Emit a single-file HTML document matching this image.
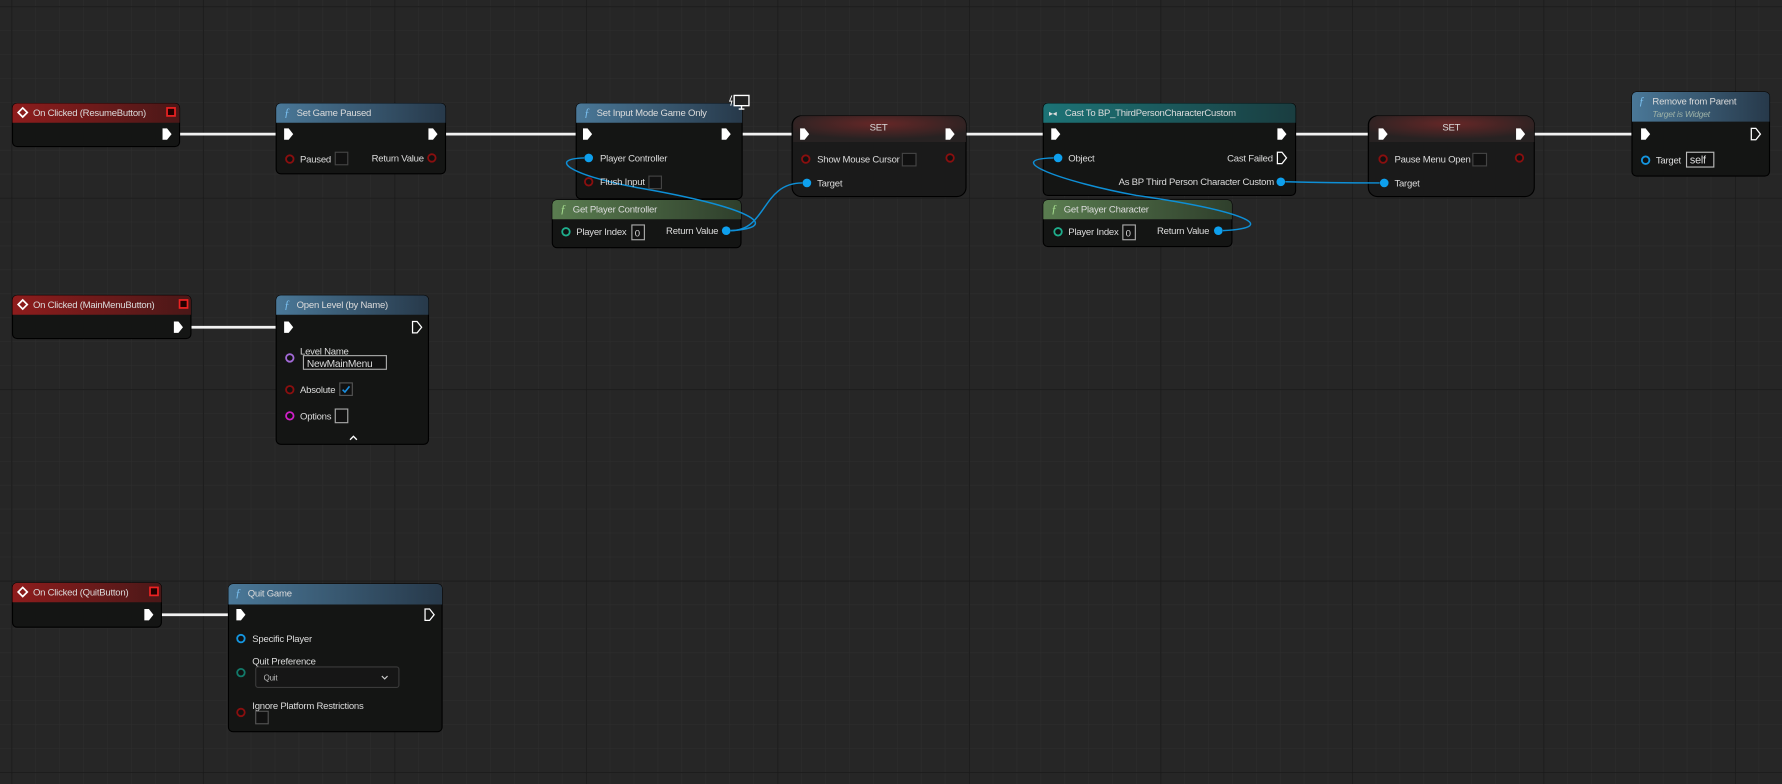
<!DOCTYPE html>
<html><head><meta charset="utf-8"><style>
html,body{margin:0;padding:0;background:#262626;overflow:hidden}
svg{display:block}
text{font-family:"Liberation Sans",sans-serif;font-size:8.4px;letter-spacing:-0.2px;fill:#dcdcdc}
</style></head><body>
<svg width="1782" height="784" viewBox="0 0 1568 690" preserveAspectRatio="none" xmlns="http://www.w3.org/2000/svg">
<defs>
<pattern id="minor" x="10" y="5.5" width="21.06" height="21.06" patternUnits="userSpaceOnUse"><path d="M0 0H21.06M0 0V21.06" stroke="#2d2d2d" stroke-width="1" fill="none"/></pattern>
<pattern id="major" x="10" y="5.5" width="168.5" height="168.5" patternUnits="userSpaceOnUse"><path d="M0 0H168.5M0 0V168.5" stroke="#1a1a1a" stroke-width="1.6" fill="none"/></pattern>
<linearGradient id="gRed" x1="0" x2="1"><stop offset="0" stop-color="#8e1c1c"/><stop offset="1" stop-color="#4a1818"/></linearGradient>
<linearGradient id="gBlue" x1="0" x2="1"><stop offset="0" stop-color="#4a7898"/><stop offset="1" stop-color="#27394a"/></linearGradient>
<linearGradient id="gGreen" x1="0" x2="1"><stop offset="0" stop-color="#5a7d50"/><stop offset="1" stop-color="#2f3f2c"/></linearGradient>
<linearGradient id="gTeal" x1="0" x2="1"><stop offset="0" stop-color="#1c7376"/><stop offset="1" stop-color="#1a3d40"/></linearGradient>
<radialGradient id="gSet" cx="0.5" cy="0.3" r="0.6"><stop offset="0" stop-color="#7a2a2a"/><stop offset="1" stop-color="#2a2424"/></radialGradient>
</defs>
<rect width="1568" height="690" fill="#262626"/>
<rect width="1568" height="690" fill="url(#minor)"/>
<rect width="1568" height="690" fill="url(#major)"/>

<g stroke="#f2f2f2" stroke-width="2.4" fill="none">
<path d="M152 118H249"/><path d="M386 118H512"/><path d="M644 118H703"/><path d="M841 118H924"/>
<path d="M1133 118H1212"/><path d="M1343 118H1443"/>
<path d="M162 288H249"/><path d="M136 541H207"/>
</g>

<g stroke="#000" stroke-width="1">
<rect x="11" y="91" width="147" height="38" rx="4" fill="#141514"/>
<rect x="243" y="91" width="149" height="62" rx="4" fill="#141514"/>
<rect x="507" y="91" width="146" height="84" rx="4" fill="#141514"/>
<rect x="697" y="102" width="153" height="71" rx="8" fill="#1a1a1a"/>
<rect x="918" y="91" width="222" height="81" rx="4" fill="#141514"/>
<rect x="1204" y="102" width="146" height="71" rx="8" fill="#1a1a1a"/>
<rect x="1436" y="81" width="121" height="74" rx="4" fill="#141514"/>
<rect x="11" y="260" width="157" height="38" rx="4" fill="#141514"/>
<rect x="243" y="260" width="134" height="131" rx="4" fill="#141514"/>
<rect x="11" y="513" width="131" height="39" rx="4" fill="#141514"/>
<rect x="201" y="514" width="188" height="130" rx="4" fill="#141514"/>
</g>
<g>
<path d="M11 108V95a4 4 0 0 1 4-4h139a4 4 0 0 1 4 4v13z" fill="url(#gRed)"/>
<path d="M243 108V95a4 4 0 0 1 4-4h141a4 4 0 0 1 4 4v13z" fill="url(#gBlue)"/>
<path d="M507 108V95a4 4 0 0 1 4-4h138a4 4 0 0 1 4 4v13z" fill="url(#gBlue)"/>
<path d="M698 125V110a8 8 0 0 1 8-8h136a8 8 0 0 1 8 8v15z" fill="url(#gSet)" opacity="0.8"/>
<path d="M918 108V95a4 4 0 0 1 4-4h214a4 4 0 0 1 4 4v13z" fill="url(#gTeal)"/>
<path d="M1205 125V110a8 8 0 0 1 8-8h129a8 8 0 0 1 8 8v15z" fill="url(#gSet)" opacity="0.8"/>
<path d="M1436 107V85a4 4 0 0 1 4-4h113a4 4 0 0 1 4 4v22z" fill="url(#gBlue)"/>
<path d="M11 277V264a4 4 0 0 1 4-4h149a4 4 0 0 1 4 4v13z" fill="url(#gRed)"/>
<path d="M243 277V264a4 4 0 0 1 4-4h126a4 4 0 0 1 4 4v13z" fill="url(#gBlue)"/>
<path d="M11 530V517a4 4 0 0 1 4-4h123a4 4 0 0 1 4 4v13z" fill="url(#gRed)"/>
<path d="M201 532V518a4 4 0 0 1 4-4h180a4 4 0 0 1 4 4v14z" fill="url(#gBlue)"/>
</g>
<g stroke="#000" stroke-width="1">
<rect x="486" y="176" width="166" height="42" rx="4" fill="#141514"/>
<rect x="918" y="176" width="166" height="41" rx="4" fill="#141514"/>
</g>
<path d="M486 193V180a4 4 0 0 1 4-4h158a4 4 0 0 1 4 4v13z" fill="url(#gGreen)"/>
<path d="M918 193V180a4 4 0 0 1 4-4h158a4 4 0 0 1 4 4v13z" fill="url(#gGreen)"/>

<g stroke="#0e8fd6" stroke-width="1.3" fill="none">
<path d="M643 203C690 200 660 182 560 165C505 155 480 140 514 139"/>
<path d="M643 203C675 203 670 161 706 161"/>
<path d="M1076 203C1130 200 1090 185 1000 172C935 160 880 140 927 139"/>
<path d="M1131 160C1170 161 1180 161 1214 161"/>
</g>

<g>
<path d="M16 99l4-4 4 4-4 4z" fill="none" stroke="#fff" stroke-width="1.5"/>
<text x="29" y="102">On Clicked (ResumeButton)</text>
<rect x="147" y="95" width="7" height="7" fill="#200" stroke="#e22" stroke-width="1.5"/>
<path d="M16 268l4-4 4 4-4 4z" fill="none" stroke="#fff" stroke-width="1.5"/>
<text x="29" y="271">On Clicked (MainMenuButton)</text>
<rect x="158" y="264" width="7" height="7" fill="#200" stroke="#e22" stroke-width="1.5"/>
<path d="M16 521l4-4 4 4-4 4z" fill="none" stroke="#fff" stroke-width="1.5"/>
<text x="29" y="524">On Clicked (QuitButton)</text>
<rect x="132" y="517" width="7" height="7" fill="#200" stroke="#e22" stroke-width="1.5"/>

<text x="250" y="102" style="fill:#7ac0f0;font-style:italic;font-size:10px;font-family:'Liberation Serif',serif">ƒ</text>
<text x="514" y="102" style="fill:#7ac0f0;font-style:italic;font-size:10px;font-family:'Liberation Serif',serif">ƒ</text>
<text x="493" y="187" style="fill:#a8e090;font-style:italic;font-size:10px;font-family:'Liberation Serif',serif">ƒ</text>
<text x="925" y="187" style="fill:#a8e090;font-style:italic;font-size:10px;font-family:'Liberation Serif',serif">ƒ</text>
<text x="1442" y="92" style="fill:#7ac0f0;font-style:italic;font-size:10px;font-family:'Liberation Serif',serif">ƒ</text>
<text x="250" y="271" style="fill:#7ac0f0;font-style:italic;font-size:10px;font-family:'Liberation Serif',serif">ƒ</text>
<text x="207" y="525" style="fill:#7ac0f0;font-style:italic;font-size:10px;font-family:'Liberation Serif',serif">ƒ</text>
<text x="261" y="102">Set Game Paused</text>
<text x="525" y="102">Set Input Mode Game Only</text>
<text x="504" y="187">Get Player Controller</text>
<text x="936" y="187">Get Player Character</text>
<text x="773" y="115" text-anchor="middle">SET</text>
<text x="1277" y="115" text-anchor="middle">SET</text>
<text x="923" y="102" style="font-size:7px">▸◂</text>
<text x="937" y="102">Cast To BP_ThirdPersonCharacterCustom</text>
<text x="1454" y="92">Remove from Parent</text>
<text x="1454" y="103" style="font-size:7.5px;font-style:italic;fill:#9fb3a8">Target is Widget</text>
<text x="261" y="271">Open Level (by Name)</text>
<text x="218" y="525">Quit Game</text>
<rect x="646" y="84" width="13" height="9" fill="#222" stroke="#fff" stroke-width="1.2"/>
<path d="M650 96h5M652.5 93v3" stroke="#fff" stroke-width="1.2"/>
<path d="M644 84l-2 5h2l-1 4" stroke="#fff" stroke-width="0.8" fill="none"/>
</g>

<g fill="#fff">
<path d="M143 113h4l4 5-4 5h-4z"/>
<path d="M250 113h4l4 5-4 5h-4z"/><path d="M377 113h4l4 5-4 5h-4z"/>
<path d="M513 113h4l4 5-4 5h-4z"/><path d="M635 113h4l4 5-4 5h-4z"/>
<path d="M704 113h4l4 5-4 5h-4z"/><path d="M832 113h4l4 5-4 5h-4z"/>
<path d="M925 113h4l4 5-4 5h-4z"/><path d="M1124 113h4l4 5-4 5h-4z"/>
<path d="M1213 113h4l4 5-4 5h-4z"/><path d="M1334 113h4l4 5-4 5h-4z"/>
<path d="M1444 113h4l4 5-4 5h-4z"/>
<path d="M153 283h4l4 5-4 5h-4z"/><path d="M250 283h4l4 5-4 5h-4z"/>
<path d="M127 536h4l4 5-4 5h-4z"/><path d="M208 536h4l4 5-4 5h-4z"/>
</g>
<g fill="none" stroke="#fff" stroke-width="1.1">
<path d="M1541 113h4l4 5-4 5h-4z"/><path d="M1124 134h4l4 5-4 5h-4z"/>
<path d="M363 283h4l4 5-4 5h-4z"/><path d="M374 536h4l4 5-4 5h-4z"/>
</g>

<g stroke-width="1.6" fill="#111">
<circle cx="255" cy="140" r="3.3" stroke="#8a0f0f"/><circle cx="380" cy="139" r="3.3" stroke="#8a0f0f"/>
<circle cx="518" cy="160" r="3.3" stroke="#8a0f0f"/>
<circle cx="709" cy="140" r="3.3" stroke="#8a0f0f"/><circle cx="836" cy="139" r="3.3" stroke="#8a0f0f"/>
<circle cx="1217" cy="140" r="3.3" stroke="#8a0f0f"/><circle cx="1337" cy="139" r="3.3" stroke="#8a0f0f"/>
<circle cx="498" cy="204" r="3.3" stroke="#1fae8c"/><circle cx="931" cy="204" r="3.3" stroke="#1fae8c"/>
<circle cx="1448" cy="141" r="3.3" stroke="#1496e0"/>
<circle cx="255" cy="315" r="3.3" stroke="#a36ad8"/>
<circle cx="255" cy="343" r="3.3" stroke="#8a0f0f"/>
<circle cx="255" cy="366" r="3.3" stroke="#d020c8"/>
<circle cx="212" cy="562" r="3.3" stroke="#1496e0"/>
<circle cx="212" cy="592" r="3.3" stroke="#127a6a"/>
<circle cx="212" cy="627" r="3.3" stroke="#8a0f0f"/>
</g>
<g fill="#0ea0ee">
<circle cx="518" cy="139" r="3.8"/><circle cx="639" cy="203" r="3.8"/>
<circle cx="710" cy="161" r="3.8"/><circle cx="931" cy="139" r="3.8"/>
<circle cx="1127" cy="160" r="3.8"/><circle cx="1072" cy="203" r="3.8"/>
<circle cx="1218" cy="161" r="3.8"/>
</g>

<g>
<text x="264" y="143">Paused</text>
<rect x="295" y="134" width="11" height="11" fill="#111" stroke="#444"/>
<text x="327" y="142">Return Value</text>
<text x="528" y="142">Player Controller</text>
<text x="528" y="163">Flush Input</text>
<rect x="571" y="155" width="11" height="11" fill="#111" stroke="#444"/>
<text x="507" y="207">Player Index</text>
<rect x="556" y="198" width="11" height="13" fill="#111" stroke="#aaa"/>
<text x="558.5" y="208">0</text>
<text x="632" y="206" text-anchor="end">Return Value</text>
<text x="719" y="143">Show Mouse Cursor</text>
<rect x="794" y="135" width="12" height="11" fill="#111" stroke="#444"/>
<text x="719" y="164">Target</text>
<text x="940" y="142">Object</text>
<text x="1120" y="142" text-anchor="end">Cast Failed</text>
<text x="1121" y="163" text-anchor="end">As BP Third Person Character Custom</text>
<text x="940" y="207">Player Index</text>
<rect x="988" y="198" width="11" height="13" fill="#111" stroke="#aaa"/>
<text x="990.5" y="208">0</text>
<text x="1064" y="206" text-anchor="end">Return Value</text>
<text x="1227" y="143">Pause Menu Open</text>
<rect x="1296" y="135" width="12" height="11" fill="#111" stroke="#444"/>
<text x="1227" y="164">Target</text>
<text x="1457" y="144">Target</text>
<rect x="1484" y="134" width="24" height="13" fill="#111" stroke="#bbb"/>
<text x="1487" y="144" style="font-size:9.5px">self</text>
<text x="264" y="312">Level Name</text>
<rect x="267" y="313" width="73" height="12" fill="#111" stroke="#aaa"/>
<text x="270" y="323" style="font-size:9px">NewMainMenu</text>
<text x="264" y="346">Absolute</text>
<rect x="299" y="337" width="11" height="11" fill="#111" stroke="#555"/>
<path d="M301.5 343l2 2 4-5" stroke="#1a8fe0" stroke-width="1.4" fill="none"/>
<text x="264" y="369">Options</text>
<rect x="295" y="360" width="11" height="12" fill="#111" stroke="#aaa"/>
<path d="M308 387l3-3 3 3" stroke="#fff" stroke-width="1.2" fill="none"/>
<text x="222" y="565">Specific Player</text>
<text x="222" y="585">Quit Preference</text>
<rect x="225" y="587" width="126" height="18" rx="2" fill="#161616" stroke="#3a3a3a"/>
<text x="232" y="599" style="font-size:7px;fill:#bbb">Quit</text>
<path d="M336 595l2.5 2.5 2.5-2.5" stroke="#ccc" stroke-width="1" fill="none"/>
<text x="222" y="624">Ignore Platform Restrictions</text>
<rect x="225" y="626" width="11" height="11" fill="#111" stroke="#555"/>
</g>
</svg>
</body></html>
